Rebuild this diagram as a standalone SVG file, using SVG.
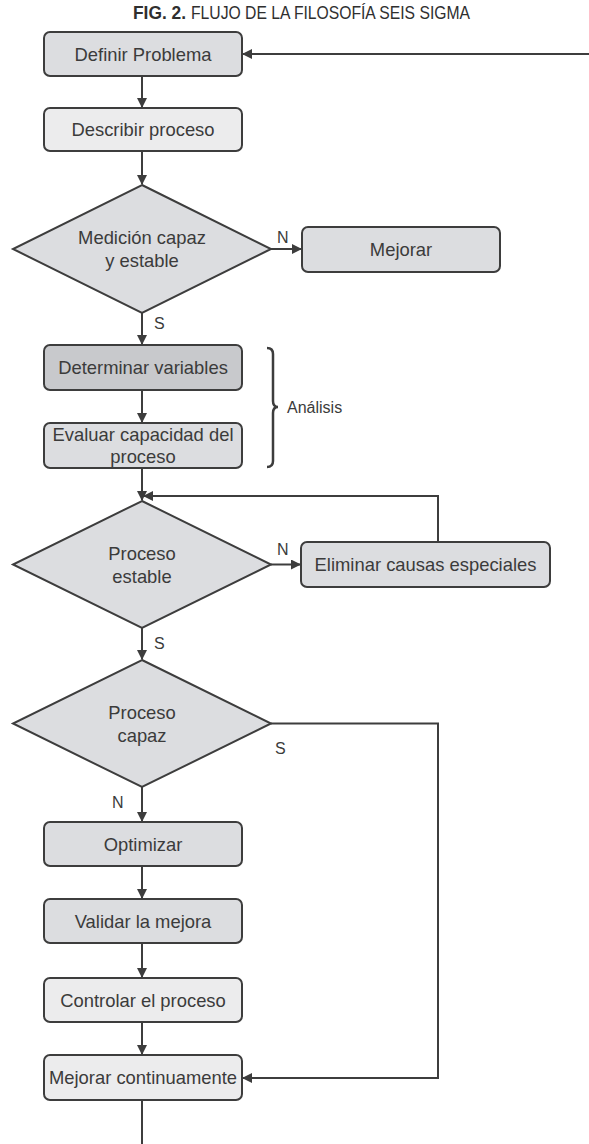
<svg xmlns="http://www.w3.org/2000/svg" width="589" height="1144" viewBox="0 0 589 1144">
<defs>
<marker id="ah" markerWidth="10" markerHeight="10" refX="9" refY="5" orient="auto" markerUnits="userSpaceOnUse">
<path d="M0,0 L10,5 L0,10 Z" fill="#3d3d3d"/>
</marker>
<style>
.box{stroke:#3d3d3d;stroke-width:2;}
.mid{fill:#dcdde0;}
.lt{fill:#ececed;}
.dk{fill:#c8c9cc;}
.t{font-family:"Liberation Sans",Arial,sans-serif;font-size:18.4px;fill:#3b3b3b;text-anchor:middle;}
.lbl{font-family:"Liberation Sans",Arial,sans-serif;font-size:16px;fill:#3b3b3b;}
.ttl{font-family:"Liberation Sans",Arial,sans-serif;font-size:18px;fill:#2f2f2f;}
.c{fill:none;stroke:#3d3d3d;stroke-width:2;}
</style>
</defs>
<rect width="589" height="1144" fill="#ffffff"/>
<g id="title">
<text class="ttl" x="133" y="19" font-weight="bold" textLength="53" lengthAdjust="spacingAndGlyphs">FIG. 2.</text>
<text class="ttl" x="191" y="19" textLength="279" lengthAdjust="spacingAndGlyphs">FLUJO DE LA FILOSOFÍA SEIS SIGMA</text>
</g>

<g id="connectors">
<path class="c" d="M590,54 L243,54" marker-end="url(#ah)"/>
<path class="c" d="M142,77 L142,107" marker-end="url(#ah)"/>
<path class="c" d="M142,152 L142,184" marker-end="url(#ah)"/>
<path class="c" d="M271,249 L301,249" marker-end="url(#ah)"/>
<path class="c" d="M142,313 L142,344" marker-end="url(#ah)"/>
<path class="c" d="M142,391 L142,422" marker-end="url(#ah)"/>
<path class="c" d="M142,469 L142,500" marker-end="url(#ah)"/>
<path class="c" d="M438,542 L438,496 L144,496" marker-end="url(#ah)"/>
<path class="c" d="M271,564.5 L300,564.5" marker-end="url(#ah)"/>
<path class="c" d="M142,628 L142,659" marker-end="url(#ah)"/>
<path class="c" d="M271,723.5 L438,723.5 L438,1078 L243,1078" marker-end="url(#ah)"/>
<path class="c" d="M142,787 L142,821" marker-end="url(#ah)"/>
<path class="c" d="M142,867 L142,898" marker-end="url(#ah)"/>
<path class="c" d="M142,944 L142,977" marker-end="url(#ah)"/>
<path class="c" d="M142,1023 L142,1054" marker-end="url(#ah)"/>
<path class="c" d="M142,1101 L142,1144"/>
</g>

<g id="definir">
<rect class="box mid" x="44" y="32" width="198" height="44" rx="6"/>
<text class="t" x="143" y="60.5">Definir Problema</text>
</g>
<g id="describir">
<rect class="box lt" x="44" y="108" width="198" height="43" rx="6"/>
<text class="t" x="143" y="136">Describir proceso</text>
</g>
<g id="medicion">
<polygon class="box mid" points="142,185 271,249 142,313 13,249"/>
<text class="t" x="142" y="243.5">Medición capaz</text>
<text class="t" x="142" y="266.5">y estable</text>
</g>
<g id="mejorar">
<rect class="box mid" x="302" y="227" width="198" height="45" rx="6"/>
<text class="t" x="401" y="256">Mejorar</text>
</g>
<g id="determinar">
<rect class="box dk" x="44" y="345" width="198" height="45" rx="6"/>
<text class="t" x="143" y="374">Determinar variables</text>
</g>
<g id="evaluar">
<rect class="box mid" x="44" y="423" width="198" height="45" rx="6"/>
<text class="t" x="143" y="440.5">Evaluar capacidad del</text>
<text class="t" x="143" y="463">proceso</text>
</g>
<g id="analisis">
<path d="M267,348 Q273,348 273,354 L273,401 Q273,407 278,407 Q273,407 273,413 L273,461 Q273,467 267,467" fill="none" stroke="#3d3d3d" stroke-width="2.5"/>
<text class="lbl" x="287" y="413">Análisis</text>
</g>
<g id="estable">
<polygon class="box mid" points="142,501 271,564.5 142,628 13,564.5"/>
<text class="t" x="142" y="559.5">Proceso</text>
<text class="t" x="142" y="582.5">estable</text>
</g>
<g id="eliminar">
<rect class="box mid" x="301" y="542" width="249" height="45" rx="6"/>
<text class="t" x="425.5" y="571">Eliminar causas especiales</text>
</g>
<g id="capaz">
<polygon class="box mid" points="142,660 271,723.5 142,787 13,723.5"/>
<text class="t" x="142" y="718.5">Proceso</text>
<text class="t" x="142" y="741.5">capaz</text>
</g>
<g id="optimizar">
<rect class="box mid" x="44" y="822" width="198" height="44" rx="6"/>
<text class="t" x="143" y="850.5">Optimizar</text>
</g>
<g id="validar">
<rect class="box mid" x="44" y="899" width="198" height="44" rx="6"/>
<text class="t" x="143" y="927.5">Validar la mejora</text>
</g>
<g id="controlar">
<rect class="box lt" x="44" y="978" width="198" height="44" rx="6"/>
<text class="t" x="143" y="1006.5">Controlar el proceso</text>
</g>
<g id="continuamente">
<rect class="box lt" x="44" y="1055" width="198" height="45" rx="6"/>
<text class="t" x="143" y="1083.5">Mejorar continuamente</text>
</g>
<g id="labels">
<text class="lbl" x="277" y="243">N</text>
<text class="lbl" x="154" y="329">S</text>
<text class="lbl" x="277" y="555">N</text>
<text class="lbl" x="154" y="649">S</text>
<text class="lbl" x="275" y="754">S</text>
<text class="lbl" x="112" y="808">N</text>
</g>
</svg>
